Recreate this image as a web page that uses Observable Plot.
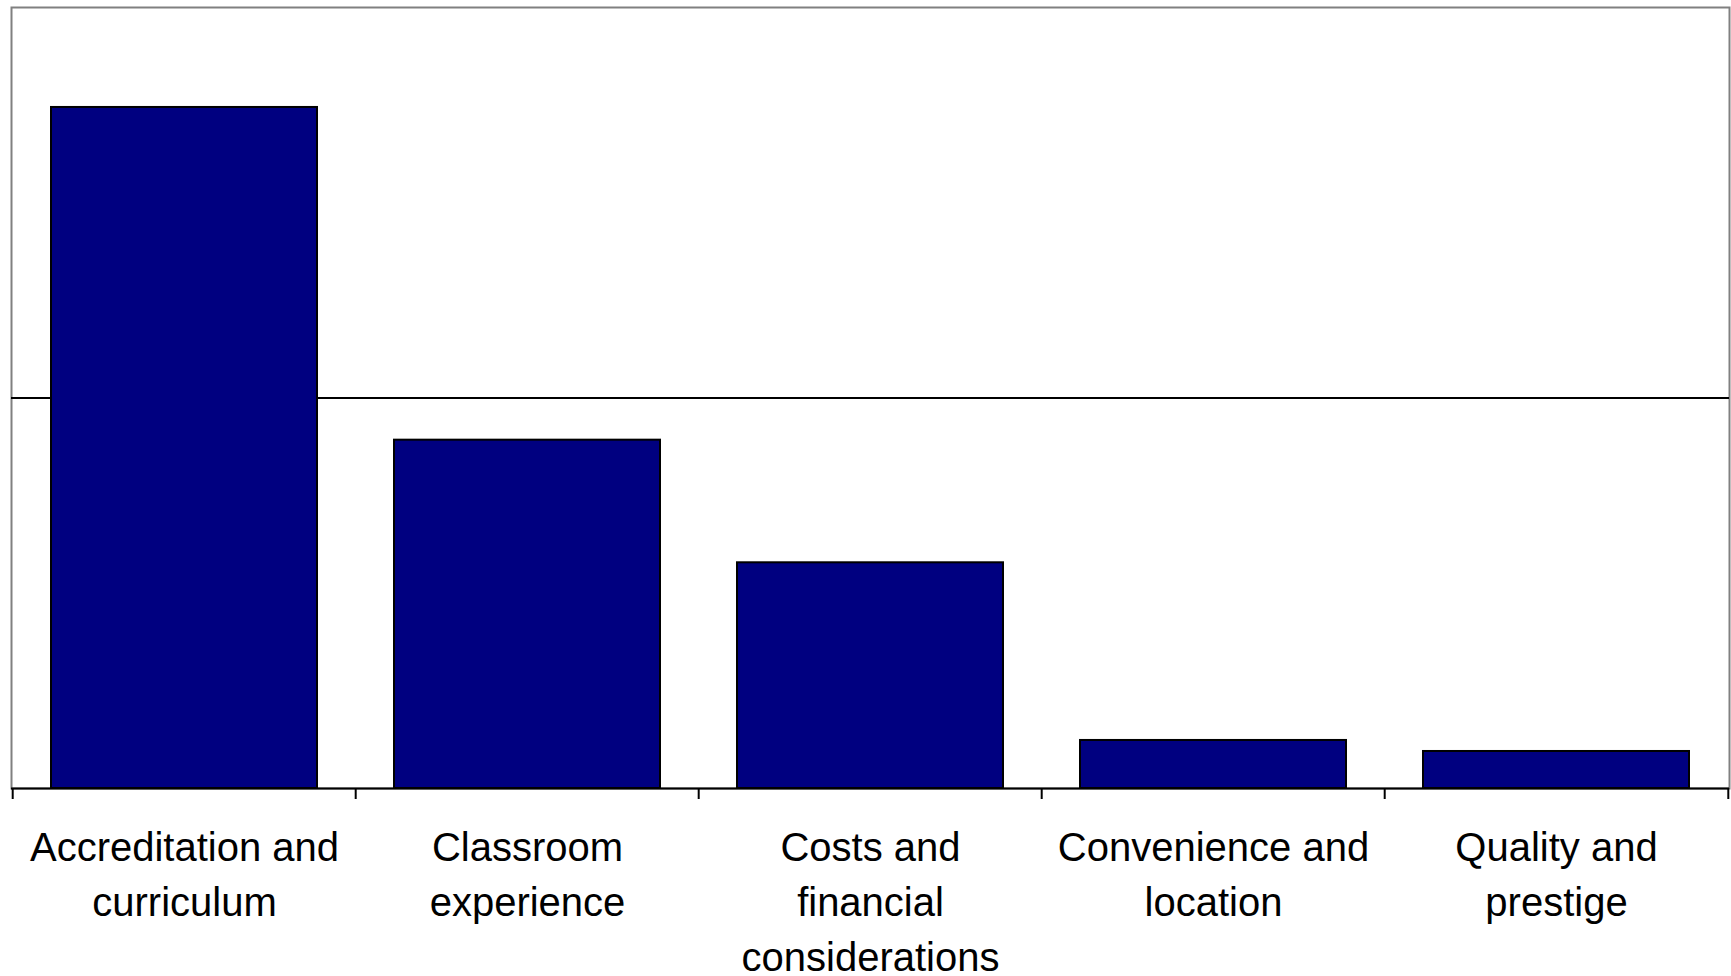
<!DOCTYPE html>
<html>
<head>
<meta charset="utf-8">
<script src="https://cdn.jsdelivr.net/npm/d3@7"></script>
<script src="https://cdn.jsdelivr.net/npm/@observablehq/plot@0.6"></script>
<style>
  html, body { margin: 0; padding: 0; background: #fff; }
  #chart svg { display: block; }
</style>
</head>
<body>
<div id="chart"></div>
<script>
const categories = [
  "Accreditation and curriculum",
  "Classroom experience",
  "Costs and financial considerations",
  "Convenience and location",
  "Quality and prestige"
];
const tickLabels = [
  "Accreditation and\ncurriculum",
  "Classroom\nexperience",
  "Costs and\nfinancial\nconsiderations",
  "Convenience and\nlocation",
  "Quality and\nprestige"
];
const values = [87.2, 44.6, 28.9, 6.15, 4.74];
const gridValues = [50];

const data = categories.map((c, i) => ({category: c, value: values[i]}));
const labelOf = new Map(categories.map((c, i) => [c, tickLabels[i]]));

const W = 1731, H = 976;
const mL = 11, mR = 2, mT = 7, mB = 188;
const step = (W - mL - mR) / categories.length;

const chart = Plot.plot({
  width: W,
  height: H,
  marginLeft: mL,
  marginRight: mR,
  marginTop: mT,
  marginBottom: mB,
  style: {fontFamily: "'Liberation Sans', Arial, sans-serif", background: "#fff", color: "#000"},
  x: {domain: categories, paddingInner: 0.225, paddingOuter: 0.1125},
  y: {domain: [0, 100]},
  marks: [
    Plot.frame({stroke: "#808080", strokeWidth: 2}),
    Plot.ruleY(gridValues, {stroke: "#000", strokeWidth: 2}),
    Plot.barY(data, {x: "category", y: "value", fill: "#000080", stroke: "#000", strokeWidth: 2}),
    Plot.ruleY([0], {stroke: "#000", strokeWidth: 2}),
    Plot.ruleX(categories, {x: d => d, y1: 0, y2: 0, dx: -step / 2, insetTop: 11, stroke: "#000", strokeWidth: 2}),
    Plot.ruleX([categories[categories.length - 1]], {x: d => d, y1: 0, y2: 0, dx: step / 2, insetTop: 11, stroke: "#000", strokeWidth: 2}),
    Plot.axisX({
      tickSize: 0,
      tickPadding: 33,
      fontSize: 40,
      lineHeight: 1.38,
      fill: "#000",
      tickFormat: d => labelOf.get(d),
      label: null
    }),
    Plot.axisY({ticks: [], label: null, tickSize: 0})
  ]
});
document.getElementById("chart").appendChild(chart);
</script>
</body>
</html>
